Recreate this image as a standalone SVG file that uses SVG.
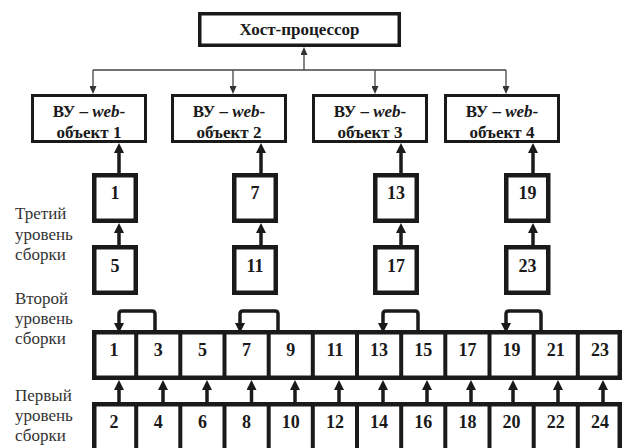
<svg xmlns="http://www.w3.org/2000/svg" width="629" height="448" viewBox="0 0 629 448" font-family="'Liberation Serif', 'Times New Roman', 'DejaVu Serif', serif">
<defs>
<style>
.box{fill:#fff;stroke:#1a1a1a}
.thin{stroke:#444;stroke-width:1.3;fill:none}
.thick{stroke:#1a1a1a;stroke-width:3.5;fill:none}
.num{font-family:'Liberation Serif', 'Times New Roman', serif;font-weight:bold;font-size:18px;fill:#1a1a1a;text-anchor:middle}
.lbl{font-family:'Liberation Serif', 'Times New Roman', serif;font-weight:bold;font-size:17px;fill:#1a1a1a;text-anchor:middle}
.side{font-family:'Liberation Serif', 'Times New Roman', serif;font-size:17px;fill:#333}
</style>
<marker id="ah" markerUnits="userSpaceOnUse" markerWidth="10" markerHeight="10" refX="0" refY="5" orient="auto" viewBox="0 0 10 10">
<path d="M0,0 L10,5 L0,10 z" fill="#1a1a1a"/>
</marker>
<marker id="at" markerUnits="userSpaceOnUse" markerWidth="8" markerHeight="7" refX="0" refY="3.5" orient="auto" viewBox="0 0 8 7">
<path d="M0,0 L8,3.5 L0,7 z" fill="#333"/>
</marker>
</defs>

<g id="host">
<rect class="box" x="199.75" y="13.75" width="199.5" height="31.5" stroke-width="3.5"/>
<text class="lbl" x="299.5" y="35">Хост-процессор</text>
</g>

<g id="vu1">
<rect class="box" x="32.5" y="95.5" width="113" height="46" stroke-width="3"/>
<text class="lbl" x="89" y="117">ВУ – <tspan font-style="italic">web</tspan>-</text>
<text class="lbl" x="89" y="138">объект 1</text>
</g>
<g id="vu2">
<rect class="box" x="172.5" y="95.5" width="113" height="46" stroke-width="3"/>
<text class="lbl" x="229" y="117">ВУ – <tspan font-style="italic">web</tspan>-</text>
<text class="lbl" x="229" y="138">объект 2</text>
</g>
<g id="vu3">
<rect class="box" x="313.5" y="95.5" width="113" height="46" stroke-width="3"/>
<text class="lbl" x="370" y="117">ВУ – <tspan font-style="italic">web</tspan>-</text>
<text class="lbl" x="370" y="138">объект 3</text>
</g>
<g id="vu4">
<rect class="box" x="445.5" y="95.5" width="113" height="46" stroke-width="3"/>
<text class="lbl" x="502" y="117">ВУ – <tspan font-style="italic">web</tspan>-</text>
<text class="lbl" x="502" y="138">объект 4</text>
</g>

<g id="level3">
<g id="l3-1"><rect class="box" x="94.25" y="175.25" width="41.5" height="45.5" stroke-width="4.5"/><text class="num" x="115" y="199">1</text></g>
<g id="l3-7"><rect class="box" x="234.25" y="175.25" width="41.5" height="45.5" stroke-width="4.5"/><text class="num" x="255" y="199">7</text></g>
<g id="l3-13"><rect class="box" x="375.25" y="175.25" width="41.5" height="45.5" stroke-width="4.5"/><text class="num" x="396" y="199">13</text></g>
<g id="l3-19"><rect class="box" x="506.25" y="175.25" width="42" height="45.5" stroke-width="4.5"/><text class="num" x="527.5" y="199">19</text></g>
<g id="l3-5"><rect class="box" x="94.25" y="247.25" width="41.5" height="45.5" stroke-width="4.5"/><text class="num" x="115" y="272">5</text></g>
<g id="l3-11"><rect class="box" x="234.25" y="247.25" width="41.5" height="45.5" stroke-width="4.5"/><text class="num" x="255" y="272">11</text></g>
<g id="l3-17"><rect class="box" x="375.25" y="247.25" width="41.5" height="45.5" stroke-width="4.5"/><text class="num" x="396" y="272">17</text></g>
<g id="l3-23"><rect class="box" x="506.25" y="247.25" width="42" height="45.5" stroke-width="4.5"/><text class="num" x="527.5" y="272">23</text></g>
</g>

<g id="level2">
<rect class="box" x="94.25" y="332.25" width="525.5" height="45.5" stroke-width="4.5"/>
<path d="M136.2,332 V378 M180.3,332 V378 M224.5,332 V378 M268.7,332 V378 M312.8,332 V378 M357,332 V378 M401.2,332 V378 M445.3,332 V378 M489.5,332 V378 M533.7,332 V378 M577.8,332 V378" stroke="#1a1a1a" stroke-width="4"/>
<text class="num" x="114.1" y="356">1</text>
<text class="num" x="158.3" y="356">3</text>
<text class="num" x="202.4" y="356">5</text>
<text class="num" x="246.6" y="356">7</text>
<text class="num" x="290.8" y="356">9</text>
<text class="num" x="334.9" y="356">11</text>
<text class="num" x="379.1" y="356">13</text>
<text class="num" x="423.3" y="356">15</text>
<text class="num" x="467.4" y="356">17</text>
<text class="num" x="511.6" y="356">19</text>
<text class="num" x="555.7" y="356">21</text>
<text class="num" x="599.9" y="356">23</text>
</g>

<g id="level1">
<rect class="box" x="94.25" y="404.25" width="525.5" height="60" stroke-width="4.5"/>
<path d="M136.2,404 V450 M180.3,404 V450 M224.5,404 V450 M268.7,404 V450 M312.8,404 V450 M357,404 V450 M401.2,404 V450 M445.3,404 V450 M489.5,404 V450 M533.7,404 V450 M577.8,404 V450" stroke="#1a1a1a" stroke-width="4"/>
<text class="num" x="114.1" y="428">2</text>
<text class="num" x="158.3" y="428">4</text>
<text class="num" x="202.4" y="428">6</text>
<text class="num" x="246.6" y="428">8</text>
<text class="num" x="290.8" y="428">10</text>
<text class="num" x="334.9" y="428">12</text>
<text class="num" x="379.1" y="428">14</text>
<text class="num" x="423.3" y="428">16</text>
<text class="num" x="467.4" y="428">18</text>
<text class="num" x="511.6" y="428">20</text>
<text class="num" x="555.7" y="428">22</text>
<text class="num" x="599.9" y="428">24</text>
</g>

<g id="labels">
<text class="side" x="15" y="219">Третий</text>
<text class="side" x="15" y="240">уровень</text>
<text class="side" x="15" y="259.5">сборки</text>
<text class="side" x="15" y="304">Второй</text>
<text class="side" x="15" y="324">уровень</text>
<text class="side" x="15" y="344">сборки</text>
<text class="side" x="15" y="401">Первый</text>
<text class="side" x="15" y="421">уровень</text>
<text class="side" x="15" y="441">сборки</text>
</g>

<g id="connectors">
<path class="thin" d="M93,70 H506"/>
<path class="thin" d="M304,70 V55" marker-end="url(#at)"/>
<path class="thin" d="M93,70 V86" marker-end="url(#at)"/>
<path class="thin" d="M233,70 V86" marker-end="url(#at)"/>
<path class="thin" d="M375,70 V86" marker-end="url(#at)"/>
<path class="thin" d="M506,70 V86" marker-end="url(#at)"/>

<path class="thick" d="M119,173 V153" marker-end="url(#ah)"/>
<path class="thick" d="M261,173 V153" marker-end="url(#ah)"/>
<path class="thick" d="M401,173 V153" marker-end="url(#ah)"/>
<path class="thick" d="M533,173 V153" marker-end="url(#ah)"/>

<path class="thick" d="M119,245 V233" marker-end="url(#ah)"/>
<path class="thick" d="M261,245 V233" marker-end="url(#ah)"/>
<path class="thick" d="M401,245 V233" marker-end="url(#ah)"/>
<path class="thick" d="M533,245 V233" marker-end="url(#ah)"/>

<path class="thick" d="M155,331 V314 Q155,311 152,311 H122 Q119,311 119,314 V323" marker-end="url(#ah)"/>
<path class="thick" d="M278,331 V314 Q278,311 275,311 H243 Q240,311 240,314 V323" marker-end="url(#ah)"/>
<path class="thick" d="M418,331 V314 Q418,311 415,311 H386 Q383,311 383,314 V323" marker-end="url(#ah)"/>
<path class="thick" d="M541,331 V314 Q541,311 538,311 H509 Q506,311 506,314 V323" marker-end="url(#ah)"/>

<path class="thick" d="M119,402 V390" marker-end="url(#ah)"/>
<path class="thick" d="M163,402 V390" marker-end="url(#ah)"/>
<path class="thick" d="M207,402 V390" marker-end="url(#ah)"/>
<path class="thick" d="M251.5,402 V390" marker-end="url(#ah)"/>
<path class="thick" d="M295,402 V390" marker-end="url(#ah)"/>
<path class="thick" d="M339,402 V390" marker-end="url(#ah)"/>
<path class="thick" d="M383,402 V390" marker-end="url(#ah)"/>
<path class="thick" d="M427,402 V390" marker-end="url(#ah)"/>
<path class="thick" d="M471,402 V390" marker-end="url(#ah)"/>
<path class="thick" d="M513,402 V390" marker-end="url(#ah)"/>
<path class="thick" d="M558,402 V390" marker-end="url(#ah)"/>
<path class="thick" d="M603,402 V390" marker-end="url(#ah)"/>
</g>
</svg>
